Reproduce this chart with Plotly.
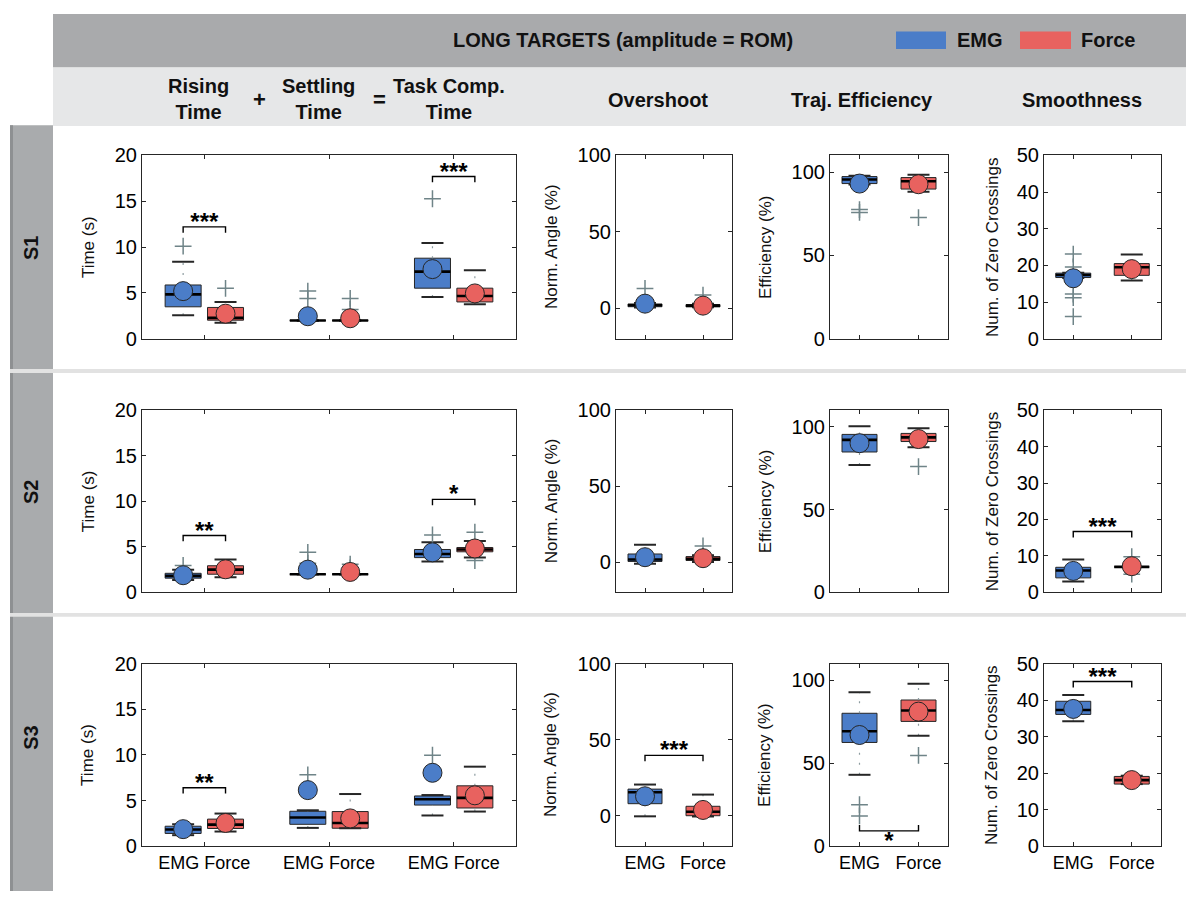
import plotly.graph_objects as go

W, H = 1186, 902
BLUE, RED = "#4b7dc8", "#e8625f"
EDGE = "#262626"
OUTC = "#6f8488"
FONT = "Liberation Sans, Arial, sans-serif"

GROUPS = ["EMG", "Force"]
METRICS = ["Rising Time", "Settling Time", "Task Comp. Time", "Overshoot", "Traj. Efficiency", "Smoothness"]
SUBJECTS = ["S1", "S2", "S3"]

# slot order: rise E, rise F, settle E, settle F, task E, task F,
#             over E, over F, eff E, eff F, smooth E, smooth F
S1_LOW  = [2.56, 1.74, 2.0, 2.0, 4.55, 3.77, 0.5, 0.6, 92.5, 88.2, 16.6, 15.9]
S1_Q1   = [3.49, 2.03, 2.0, 2.0, 5.52, 4.02, 1.0, 0.9, 93.1, 89.8, 16.7, 17.3]
S1_MED  = [4.84, 2.28, 2.0, 2.0, 7.33, 4.66, 2.0, 1.7, 95.5, 94.5, 17.4, 19.5]
S1_Q3   = [5.87, 3.42, 2.0, 2.0, 8.79, 5.52, 2.8, 2.4, 97.3, 96.7, 17.9, 20.5]
S1_HIGH = [8.40, 4.00, 2.0, 2.0, 10.46, 7.47, 3.5, 3.0, 97.8, 98.4, 18.0, 23.0]
S1_MEAN = [5.20, 2.74, 2.46, 2.24, 7.60, 4.95, 3.0, 1.7, 93.1, 92.7, 16.5, 19.0]
S1_OUT  = [[10.1], [5.5], [5.2, 4.4], [4.4, 3.2], [15.27], [], [12.9], [8.6],
           [77.5, 75.8], [72.7], [23.1, 19.6, 12.2, 11.2, 6.05], []]
S1_SIG  = [(0, 12.2, "***", 1), (2, 17.7, "***", 1)]

S2_LOW  = [1.36, 1.68, 2.0, 2.0, 3.40, 3.82, -1.1, 0.0, 76.9, 87.5, 3.0, 7.0]
S2_Q1   = [1.57, 2.00, 2.0, 2.0, 3.82, 4.46, 0.4, 1.06, 84.7, 91.0, 4.0, 7.0]
S2_MED  = [1.82, 2.50, 2.0, 2.0, 4.21, 4.71, 1.7, 2.1, 92.0, 93.5, 6.0, 7.0]
S2_Q3   = [2.10, 2.93, 2.0, 2.0, 4.71, 4.93, 5.3, 3.6, 95.3, 95.9, 6.9, 7.0]
S2_HIGH = [2.50, 3.60, 2.0, 2.0, 5.50, 5.64, 11.3, 4.5, 100.2, 99.0, 9.0, 7.0]
S2_MEAN = [1.89, 2.54, 2.50, 2.25, 4.40, 4.82, 3.2, 2.55, 90.0, 92.5, 5.9, 7.2]
S2_OUT  = [[2.96], [], [4.4, 3.2], [3.1, 2.7], [6.3], [6.6, 3.5], [], [10.6],
           [], [75.9], [], [9.8, 5.0]]
S2_SIG  = [(0, 6.25, "**", 1), (2, 10.2, "*", 1), (5, 16.7, "***", 1)]

S3_LOW  = [1.20, 1.60, 2.00, 1.96, 3.36, 3.79, -0.4, -0.5, 43.0, 66.6, 34.2, 17.0]
S3_Q1   = [1.39, 1.93, 2.39, 1.96, 4.50, 4.18, 7.9, 0.0, 62.5, 75.2, 36.1, 17.0]
S3_MED  = [1.82, 2.36, 3.14, 2.54, 5.14, 5.29, 15.4, 2.6, 69.3, 81.8, 37.3, 18.1]
S3_Q3   = [2.18, 2.96, 3.82, 3.79, 5.50, 6.61, 17.5, 6.2, 80.1, 88.1, 39.7, 19.1]
S3_HIGH = [2.40, 3.57, 3.93, 5.71, 5.60, 8.71, 20.5, 13.9, 92.8, 97.9, 41.4, 19.3]
S3_MEAN = [1.86, 2.54, 6.14, 3.04, 8.04, 5.57, 12.8, 3.8, 67.0, 81.1, 37.6, 18.1]
S3_OUT  = [[], [], [7.82], [], [9.96], [], [], [], [25.0, 18.2], [54.7], [], []]
S3_SIG  = [(0, 6.4, "**", 1), (3, 39.7, "***", 1), (4, 9.2, "*", -1), (5, 45.1, "***", 1)]

# off-scale outliers in S3 (EMG, settling and task completion time)
OFFSCALE_METRICS = [1, 2]
OFFSCALE_TAGS = ["(1)", "(2)"]
OFFSCALE_Y = [23.4, 21.3]

ROWS = [
    (S1_LOW, S1_Q1, S1_MED, S1_Q3, S1_HIGH, S1_MEAN, S1_OUT, S1_SIG),
    (S2_LOW, S2_Q1, S2_MED, S2_Q3, S2_HIGH, S2_MEAN, S2_OUT, S2_SIG),
    (S3_LOW, S3_Q1, S3_MED, S3_Q3, S3_HIGH, S3_MEAN, S3_OUT, S3_SIG),
]

# layout geometry (pixels)
PANEL_X_PX = [(142, 516), (616, 732), (830, 948), (1044, 1161)]
PANEL_Y_PX = [(148, 336), (409, 596), (669, 856)]
Y_RANGES = [(0, 20), (-20, 100), (0, 110), (0, 50)]
Y_TICKS = [[0, 5, 10, 15, 20], [0, 50, 100], [0, 50, 100], [0, 10, 20, 30, 40, 50]]
X_RANGES = [(0.5, 3.5), (0.5, 2.5), (0.5, 2.5), (0.5, 2.5)]
Y_TITLES = ["Time (s)", "Norm. Angle (%)", "Efficiency (%)", "Num. of Zero Crossings"]
Y_TITLE_X = [88, 551, 765, 992]
BOX_PX = [36, 34, 35, 35]
CAP_PX = 22
TIME_OFFSET = 0.17


def panel_of(metric):
    return 0 if metric < 3 else metric - 2


def xpos(metric, group):
    if metric < 3:
        return metric + 1 + (-TIME_OFFSET if group == 0 else TIME_OFFSET)
    return group + 1


def ppu_x(col):
    return (PANEL_X_PX[col][1] - PANEL_X_PX[col][0]) / (X_RANGES[col][1] - X_RANGES[col][0])


def ppu_y(row, col):
    return (PANEL_Y_PX[row][1] - PANEL_Y_PX[row][0]) / (Y_RANGES[col][1] - Y_RANGES[col][0])


fig = go.Figure()


def axrefs(row, col):
    k = row * 4 + col + 1
    return ("x" if k == 1 else f"x{k}"), ("y" if k == 1 else f"y{k}")


for r, (LOW, Q1, MED, Q3, HIGH, MEAN, OUTL, SIG) in enumerate(ROWS):
    for s in range(12):
        m, g = s // 2, s % 2
        col = panel_of(m)
        xr, yr = axrefs(r, col)
        x = xpos(m, g)
        color = BLUE if g == 0 else RED
        bw = BOX_PX[col] / ppu_x(col)
        cw = CAP_PX / ppu_x(col) / 2
        # whiskers (sparse dotted)
        fig.add_trace(go.Scatter(
            x=[x, x, None, x, x], y=[Q3[s], HIGH[s], None, LOW[s], Q1[s]],
            mode="lines", line=dict(color="#8d9ca0", width=1.2, dash="2px,8px"),
            xaxis=xr, yaxis=yr, hoverinfo="skip"))
        # box
        fig.add_trace(go.Bar(
            x=[x], y=[Q3[s] - Q1[s]], base=[Q1[s]], width=bw,
            marker=dict(color=color, line=dict(color=EDGE, width=1)),
            xaxis=xr, yaxis=yr, hoverinfo="skip"))
        # caps
        fig.add_trace(go.Scatter(
            x=[x - cw, x + cw, None, x - cw, x + cw],
            y=[HIGH[s], HIGH[s], None, LOW[s], LOW[s]],
            mode="lines", line=dict(color=EDGE, width=2),
            xaxis=xr, yaxis=yr, hoverinfo="skip"))
        # median
        fig.add_trace(go.Scatter(
            x=[x - bw / 2, x + bw / 2], y=[MED[s], MED[s]],
            mode="lines", line=dict(color="black", width=2.6),
            xaxis=xr, yaxis=yr, hoverinfo="skip"))
        # outliers
        if OUTL[s]:
            fig.add_trace(go.Scatter(
                x=[x] * len(OUTL[s]), y=OUTL[s], mode="markers",
                marker=dict(symbol="cross-thin", size=12, line=dict(color=OUTC, width=1.5)),
                xaxis=xr, yaxis=yr, hoverinfo="skip"))
        # mean
        fig.add_trace(go.Scatter(
            x=[x], y=[MEAN[s]], mode="markers",
            marker=dict(symbol="circle", size=19, color=color, line=dict(color=EDGE, width=1)),
            xaxis=xr, yaxis=yr, hoverinfo="skip"))

    # significance brackets
    for (m, yb, label, d) in SIG:
        col = panel_of(m)
        xr, yr = axrefs(r, col)
        x0, x1 = xpos(m, 0), xpos(m, 1)
        drop = 6 / ppu_y(r, col)
        fig.add_trace(go.Scatter(
            x=[x0, x0, x1, x1], y=[yb - d * drop, yb, yb, yb - d * drop],
            mode="lines", line=dict(color="black", width=1.4),
            xaxis=xr, yaxis=yr, hoverinfo="skip"))
        ys = yb + d * 3 / ppu_y(r, col) if d > 0 else yb - 12 / ppu_y(r, col)
        fig.add_trace(go.Scatter(
            x=[(x0 + x1) / 2], y=[ys], mode="text", text=[f"<b>{label}</b>"],
            textposition="middle center",
            textfont=dict(size=24, color="black", family=FONT),
            xaxis=xr, yaxis=yr, hoverinfo="skip", cliponaxis=False))

# off-scale outliers (S3)
for m in OFFSCALE_METRICS:
    xr, yr = axrefs(2, 0)
    fig.add_trace(go.Scatter(
        x=[xpos(m, 0)] * len(OFFSCALE_Y), y=OFFSCALE_Y, mode="markers+text",
        text=[" " + t for t in OFFSCALE_TAGS], textposition="middle right",
        textfont=dict(size=17, color="black", family=FONT),
        marker=dict(symbol="cross-thin", size=12, line=dict(color=OUTC, width=1.5)),
        xaxis=xr, yaxis=yr, hoverinfo="skip", cliponaxis=False))

layout = dict(
    width=W, height=H, margin=dict(l=0, r=0, t=0, b=0),
    paper_bgcolor="white", plot_bgcolor="rgba(0,0,0,0)",
    showlegend=False, barmode="overlay",
    font=dict(family=FONT, color="black"),
)

for r in range(3):
    for c in range(4):
        k = r * 4 + c + 1
        sfx = "" if k == 1 else str(k)
        x0, x1 = PANEL_X_PX[c]
        y0, y1 = PANEL_Y_PX[r]
        if c == 0:
            tv, tt = [1, 2, 3], ["EMG Force"] * 3
        else:
            tv, tt = [1, 2], GROUPS
        common = dict(showline=True, linecolor=EDGE, linewidth=1.2, mirror="ticks",
                      ticks="inside", ticklen=4, tickcolor=EDGE, showgrid=False,
                      zeroline=False, fixedrange=True)
        layout["xaxis" + sfx] = dict(
            domain=[x0 / W, x1 / W], range=list(X_RANGES[c]), tickvals=tv, ticktext=tt,
            showticklabels=(r == 2), anchor="y" + sfx,
            tickfont=dict(size=18, family=FONT, color="black"), **common)
        layout["yaxis" + sfx] = dict(
            domain=[1 - y1 / H, 1 - y0 / H], range=list(Y_RANGES[c]), tickvals=Y_TICKS[c],
            anchor="x" + sfx, tickfont=dict(size=20, family=FONT, color="black"), **common)

fig.update_layout(**layout)


def px(xp, yp):
    return xp / W, 1 - yp / H


shapes = []


def rect(x0, y0, x1, y1, color):
    shapes.append(dict(type="rect", xref="paper", yref="paper", x0=x0 / W, x1=x1 / W,
                       y0=1 - y1 / H, y1=1 - y0 / H, fillcolor=color, line=dict(width=0),
                       layer="below"))


rect(53, 3, W, 58, "#a9aaac")
rect(53, 58, W, 118, "#e6e7e8")
rect(10, 117, 53, H, "#a9abad")
rect(10, 117, 13, H, "#8e9092")
rect(10, 367, W, 371, "#e2e2e2")
rect(10, 617, W, 621, "#e2e2e2")
# legend swatches
rect(896, 21, 946, 39, BLUE)
rect(1020, 21, 1071, 39, RED)

annotations = []


def text(xp, yp, s, size=18, bold=True, angle=0):
    ax, ay = px(xp, yp)
    annotations.append(dict(x=ax, y=ay, xref="paper", yref="paper", text=(f"<b>{s}</b>" if bold else s),
                            showarrow=False, xanchor="center", yanchor="middle", textangle=angle,
                            font=dict(size=size, family=FONT, color="#111")))


text(623, 30, "LONG TARGETS (amplitude = ROM)", 20)
text(980, 30, "EMG", 20)
text(1108, 30, "Force", 20)
text(198, 90, "Rising<br>Time", 20)
text(259, 91, "+", 22)
text(318, 90, "Settling<br>Time", 20)
text(379, 91, "=", 22)
text(449, 90, "Task Comp.<br>Time", 20)
text(658, 91, METRICS[3], 20)
text(862, 91, METRICS[4], 20)
text(1082, 91, METRICS[5], 20)

ROW_LABEL_Y = [243, 493, 745]
for r, lab in enumerate(SUBJECTS):
    text(31, ROW_LABEL_Y[r], lab, 20, True, -90)
    yc = (PANEL_Y_PX[r][0] + PANEL_Y_PX[r][1]) / 2
    for c in range(4):
        text(Y_TITLE_X[c], yc, Y_TITLES[c], 17, False, -90)

fig.update_layout(shapes=shapes, annotations=annotations)
fig.write_html("out.html")
